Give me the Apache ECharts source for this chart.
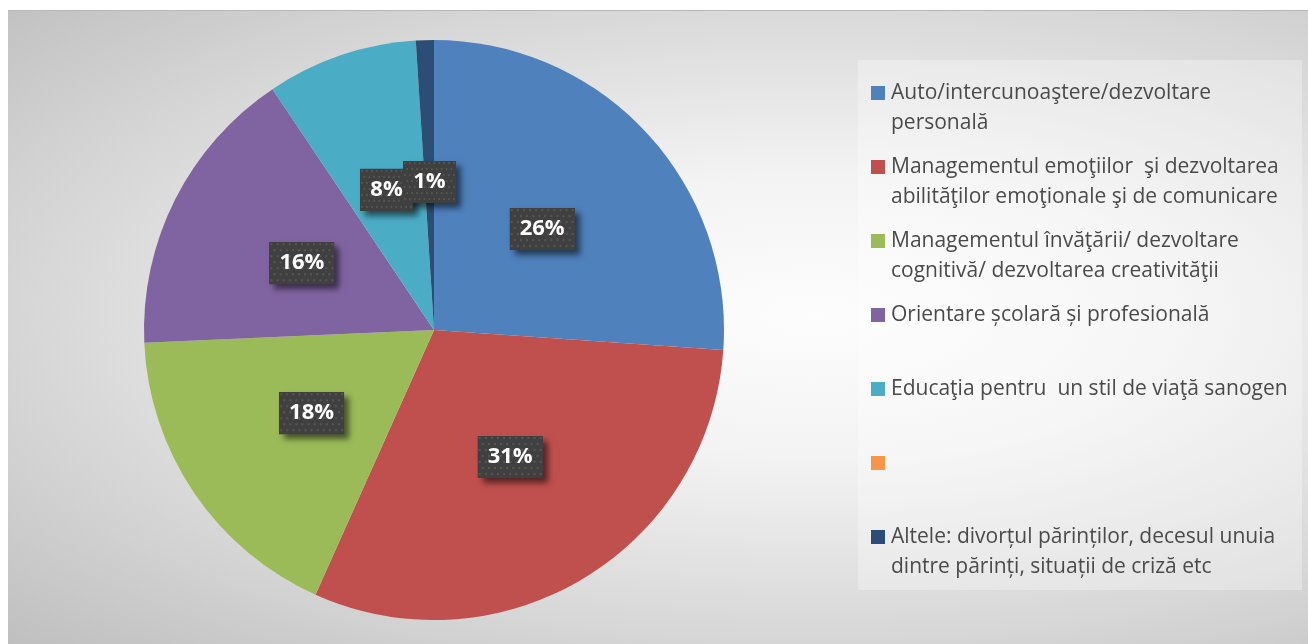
<!DOCTYPE html>
<html>
<head>
<meta charset="utf-8">
<script src="https://cdn.jsdelivr.net/npm/echarts@6/dist/echarts.min.js"></script>
<style>
  html, body { margin: 0; padding: 0; background: #fff; }
  #bg {
    position: absolute; left: 8px; top: 10px; width: 1300px; height: 634px;
    border-top: 1px solid #b8b8b8;
    background: radial-gradient(ellipse farthest-corner at 62% 48%, #fdfdfd 0%, #f3f3f3 30%, #d6d6d6 70%, #bfbfbf 100%);
  }
  #chart { position: absolute; left: 0; top: 0; width: 1308px; height: 644px; }
</style>
</head>
<body>
<div id="bg"></div>
<div id="chart"></div>
<script>
// categories (the orange one has no text in the source)
const categories = [
  'Auto/intercunoaştere/dezvoltare personală',
  'Managementul emoţiilor  şi dezvoltarea abilităţilor emoţionale şi de comunicare',
  'Managementul învăţării/ dezvoltare cognitivă/ dezvoltarea creativităţii',
  'Orientare școlară și profesională',
  'Educaţia pentru  un stil de viaţă sanogen',
  ' ',
  'Altele: divorțul părinților, decesul unuia dintre părinți, situații de criză etc'
]
// how the legend wraps each name
const legendLines = [
  ['Auto/intercunoaştere/dezvoltare', 'personală'],
  ['Managementul emoţiilor  şi dezvoltarea', 'abilităţilor emoţionale şi de comunicare'],
  ['Managementul învăţării/ dezvoltare', 'cognitivă/ dezvoltarea creativităţii'],
  ['Orientare școlară și profesională'],
  ['Educaţia pentru  un stil de viaţă sanogen'],
  [''],
  ['Altele: divorțul părinților, decesul unuia', 'dintre părinți, situații de criză etc']
]
const shares = [26.1, 30.6, 17.6, 16.3, 8.4, 0, 1.0]
const colors = ['#4f81bd', '#c0504d', '#9bbb59', '#8064a2', '#4bacc6', '#f79646', '#2c4d75']

/**
 * dotted dark background of the data labels
 * */
function dotPattern () {
  const c = document.createElement('canvas')
  c.width = 64
  c.height = 42
  const ctx = c.getContext('2d')
  ctx.fillStyle = '#404040'
  ctx.fillRect(0, 0, 64, 42)
  ctx.fillStyle = '#565656'
  for (let y = 1; y < 42; y += 6) {
    const off = (Math.floor(y / 6) % 2) * 3
    for (let x = 1 + off; x < 64; x += 6) {
      ctx.fillRect(x, y, 2, 2)
    }
  }
  return c
}

const chart = echarts.init(document.getElementById('chart'))
const pattern = dotPattern()

// shared label look, bg/shadow differ per layer
function labelStyle (extra) {
  return Object.assign({
    position: 'inside',
    overflow: 'none',
    formatter: function (p) {
      return Math.round(p.percent) + '%'
    },
    color: '#fff',
    fontFamily: 'Open Sans',
    fontWeight: 'bold',
    fontSize: 22,
    lineHeight: 24,
    padding: [9, 10, 9, 10]
  }, extra)
}

function pieData (withColor) {
  return categories.map((name, i) => ({
    name: name,
    value: shares[i],
    itemStyle: withColor ? { color: colors[i] } : undefined,
    label: shares[i] ? undefined : { show: false }
  }))
}

const pieBase = {
  type: 'pie',
  center: [434, 330],
  radius: 290,
  startAngle: 90,
  clockwise: true,
  avoidLabelOverlap: false,
  minShowLabelAngle: 0,
  labelLayout: { hideOverlap: false },
  emphasis: { disabled: true },
  labelLine: { show: false }
}

const option = {
  animation: false,
  graphic: [
    {
      type: 'rect',
      z: 0,
      shape: { x: 858, y: 60, width: 444, height: 530 },
      style: { fill: 'rgba(255,255,255,0.3)' }
    }
  ],
  legend: {
    orient: 'vertical',
    left: 871,
    top: 48,
    padding: 0,
    itemWidth: 14,
    itemHeight: 14,
    itemGap: -16,
    icon: 'rect',
    selectedMode: false,
    itemStyle: { borderWidth: 0 },
    textStyle: {
      color: '#4a4a4a',
      fontFamily: 'Open Sans',
      fontSize: 21,
      lineHeight: 30,
      padding: [0, 0, 0, 1]
    },
    formatter: function (name) {
      const lines = legendLines[categories.indexOf(name)]
      return '\n' + lines[0] + '\n' + (lines[1] || '')
    },
    data: categories
  },
  series: [
    // the pie itself, labels here only give the drop shadow
    Object.assign({}, pieBase, {
      itemStyle: { borderWidth: 0 },
      label: labelStyle({
        backgroundColor: '#404040',
        shadowColor: 'rgba(0,0,0,0.55)',
        shadowBlur: 6,
        shadowOffsetX: 5,
        shadowOffsetY: 5
      }),
      data: pieData(true)
    }),
    // transparent copy on top carrying the dotted label boxes
    Object.assign({}, pieBase, {
      silent: true,
      legendHoverLink: false,
      itemStyle: { borderWidth: 0, color: 'rgba(0,0,0,0)' },
      label: labelStyle({
        backgroundColor: { image: pattern }
      }),
      data: pieData(false)
    })
  ]
}

chart.setOption(option)
</script>
</body>
</html>
